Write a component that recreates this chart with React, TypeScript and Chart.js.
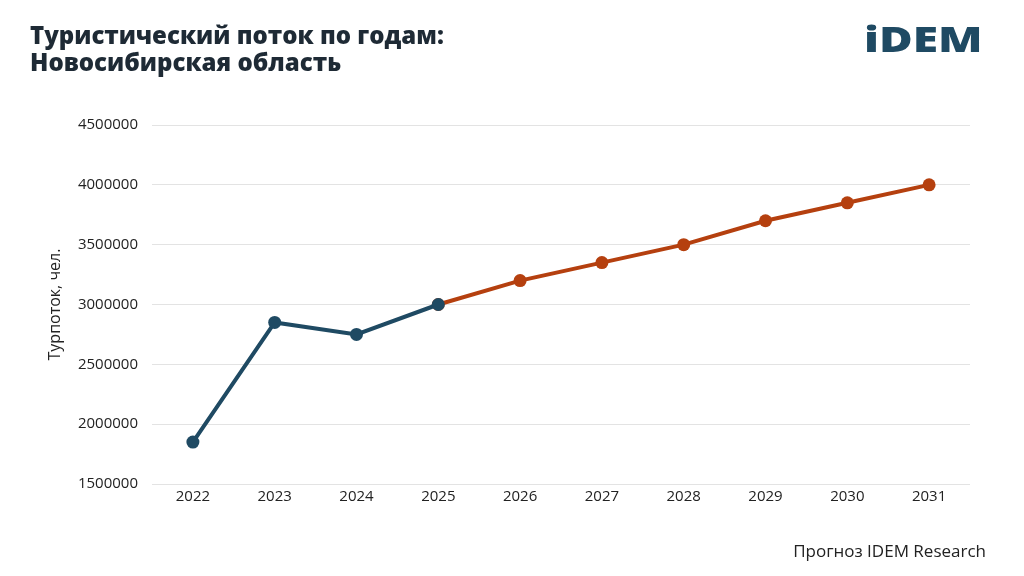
import React, { useEffect, useRef } from "react";
import { Chart, registerables } from "chart.js";

Chart.register(...registerables);

const years = ["2022", "2023", "2024", "2025", "2026", "2027", "2028", "2029", "2030", "2031"];
const actualValues = [1850000, 2850000, 2750000, 3000000, null, null, null, null, null, null];
const forecastValues = [null, null, null, 3000000, 3200000, 3350000, 3500000, 3700000, 3850000, 4000000];
const yTicks = [1500000, 2000000, 2500000, 3000000, 3500000, 4000000, 4500000];

const titleLines = ["Туристический поток по годам:", "Новосибирская область"];
const yTitle = "Турпоток, чел.";
const footnote = "Прогноз IDEM Research";

const FONT = "'Open Sans', 'Noto Sans', sans-serif";
const BLUE = "#1f4a63";
const ORANGE = "#b5400f";

export default function App() {
  const ref = useRef<HTMLCanvasElement | null>(null);

  useEffect(() => {
    document.body.style.margin = "0";
    const ctx = ref.current!;
    const chart = new Chart(ctx, {
      type: "line",
      data: {
        labels: years,
        datasets: [
          {
            data: actualValues,
            borderColor: BLUE,
            backgroundColor: BLUE,
            borderWidth: 4,
            pointRadius: 6.5,
            pointHoverRadius: 6.5,
            pointBackgroundColor: BLUE,
            pointBorderWidth: 0,
            spanGaps: false,
          },
          {
            data: forecastValues,
            borderColor: ORANGE,
            backgroundColor: ORANGE,
            borderWidth: 4,
            pointRadius: 6.5,
            pointHoverRadius: 6.5,
            pointBackgroundColor: ORANGE,
            pointBorderWidth: 0,
            spanGaps: false,
          },
        ],
      },
      options: {
        animation: false,
        responsive: false,
        layout: { padding: { top: 125, left: 42, right: 54, bottom: 66 } },
        plugins: { legend: { display: false }, tooltip: { enabled: false } },
        scales: {
          x: {
            offset: true,
            grid: { display: false, drawTicks: false },
            border: { display: false },
            ticks: { color: "#222", font: { family: FONT, size: 15 }, padding: 4 },
          },
          y: {
            min: 1500000,
            max: 4500000,
            afterBuildTicks: (axis: any) => {
              axis.ticks = yTicks.map((v) => ({ value: v }));
            },
            afterFit: (axis: any) => {
              axis.width = 110;
            },
            grid: { color: "#e3e3e3", lineWidth: 1, drawTicks: false },
            border: { display: false },
            ticks: {
              color: "#222",
              font: { family: FONT, size: 15 },
              padding: 14,
              callback: (v: any) => String(v),
            },
            title: {
              display: true,
              text: yTitle,
              color: "#222",
              font: { family: FONT, size: 16 },
              padding: { bottom: 2 },
            },
          },
        },
      },
    });
    return () => chart.destroy();
  }, []);

  return (
    <div style={{ position: "fixed", left: 0, top: 0, width: 1024, height: 576, background: "#fff", fontFamily: FONT }}>
      <canvas ref={ref} width={1024} height={576} style={{ position: "absolute", left: 0, top: 0 }} />
      <div
        style={{
          position: "absolute",
          left: 30,
          top: 21,
          fontSize: 24,
          fontWeight: 800,
          lineHeight: "27px",
          color: "#1e2a35",
        }}
      >
        {titleLines.map((l) => (
          <div key={l}>{l}</div>
        ))}
      </div>
      <div
        style={{
          position: "absolute",
          left: 864,
          top: 14,
          fontSize: 36,
          fontWeight: 800,
          color: BLUE,
          fontFamily: "'Open Sans', sans-serif",
          transform: "scaleX(1.28)",
          transformOrigin: "left top",
          lineHeight: "50px",
        }}
      >
        iDEM
      </div>
      <div style={{ position: "absolute", right: 38, top: 539, fontSize: 17, color: "#222" }}>{footnote}</div>
    </div>
  );
}
